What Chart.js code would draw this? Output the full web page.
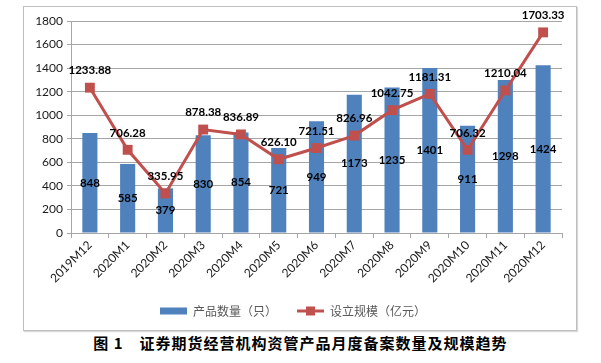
<!DOCTYPE html>
<html>
<head>
<meta charset="utf-8">
<script src="https://cdn.jsdelivr.net/npm/chart.js@4"></script>
<style>
  body { margin: 0; background: #fff; width: 601px; height: 363px; position: relative; overflow: hidden; }
  #box { position: absolute; left: 23px; top: 6px; width: 552px; height: 323px; border: 1px solid #bfbfbf; box-shadow: 1px 1px 1px #d9d9d9; }
  #title { position: absolute; left: 0; top: 334px; width: 601px; text-align: center; white-space: pre;
           font: bold 15px "Noto Sans CJK SC"; letter-spacing: 1px; line-height: 18px; color: #000; }
</style>
</head>
<body>
<div id="box"><canvas id="chart" width="552" height="323"></canvas></div>
<div id="title">图 1　证券期货经营机构资管产品月度备案数量及规模趋势</div>
<script>
// months on the x axis
const months = ["2019M12", "2020M1", "2020M2", "2020M3", "2020M4", "2020M5", "2020M6",
                "2020M7", "2020M8", "2020M9", "2020M10", "2020M11", "2020M12"];
// 产品数量（只）
const productCount = [848, 585, 379, 830, 854, 721, 949, 1173, 1235, 1401, 911, 1298, 1424];
// 设立规模（亿元）
const scale = [1233.88, 706.28, 335.95, 878.38, 836.89, 626.10, 721.51, 826.96, 1042.75, 1181.31, 706.32, 1210.04, 1703.33];
const yTicks = [0, 200, 400, 600, 800, 1000, 1200, 1400, 1600, 1800];

const blue = "#4f81bd";
const red = "#c0504d";
const gridGray = "#a6a6a6";

// little canvases used as legend symbols
function legendSwatch(kind) {
  const c = document.createElement("canvas");
  c.width = 27; c.height = 11;
  const g = c.getContext("2d");
  if (kind === "bar") {
    g.fillStyle = blue;
    g.fillRect(0, 2, 27, 7);
  } else {
    g.strokeStyle = red;
    g.lineWidth = 3;
    g.beginPath(); g.moveTo(0, 5.5); g.lineTo(27, 5.5); g.stroke();
    g.fillStyle = red;
    g.fillRect(9, 1, 9, 9);
  }
  return c;
}

// value labels: centred in the bars, above the line points
const valueLabels = {
  id: "valueLabels",
  afterDatasetsDraw(chart) {
    const ctx = chart.ctx;
    ctx.save();
    ctx.font = "bold 11.5px Lato";
    ctx.fillStyle = "#000";
    ctx.textAlign = "center";
    ctx.textBaseline = "middle";
    chart.getDatasetMeta(0).data.forEach((el, i) => {
      ctx.fillText(String(productCount[i]), el.x, (el.y + el.base) / 2);
    });
    chart.getDatasetMeta(1).data.forEach((el, i) => {
      ctx.fillText(scale[i].toFixed(2), el.x, el.y - 17);
    });
    ctx.restore();
  }
};

new Chart(document.getElementById("chart"), {
  type: "bar",
  data: {
    labels: months,
    datasets: [
      {
        type: "bar",
        label: "产品数量（只）",
        data: productCount,
        backgroundColor: blue,
        categoryPercentage: 1,
        barPercentage: 0.4,
        order: 1
      },
      {
        type: "line",
        label: "设立规模（亿元）",
        data: scale,
        borderColor: red,
        backgroundColor: red,
        borderWidth: 3,
        pointStyle: "rect",
        pointRadius: 7,
        pointHoverRadius: 7,
        pointBorderWidth: 0,
        tension: 0,
        order: 0
      }
    ]
  },
  options: {
    responsive: false,
    animation: false,
    layout: { padding: { top: 14, right: 14, left: 0, bottom: 3 } },
    plugins: {
      tooltip: { enabled: false },
      legend: {
        position: "bottom",
        labels: {
          usePointStyle: true,
          pointStyleWidth: 27,
          padding: 20,
          color: "#595959",
          font: { family: "Noto Sans CJK SC", size: 12 },
          generateLabels(chart) {
            return chart.data.datasets.map((ds, i) => ({
              text: ds.label,
              pointStyle: legendSwatch(i === 0 ? "bar" : "line"),
              fillStyle: ds.backgroundColor,
              strokeStyle: ds.backgroundColor,
              lineWidth: 0,
              hidden: false,
              datasetIndex: i,
              fontColor: "#595959"
            }));
          }
        }
      }
    },
    scales: {
      x: {
        grid: { drawOnChartArea: false, drawTicks: true, tickLength: 5, color: gridGray, offset: true },
        border: { color: gridGray },
        ticks: { color: "#1a1a1a", font: { family: "Lato", size: 12 }, maxRotation: 45, minRotation: 45, autoSkip: false, padding: 0 },
        afterFit(s) { s.height = 52; }
      },
      y: {
        min: 0,
        max: 1800,
        afterBuildTicks(s) { s.ticks = yTicks.map(v => ({ value: v })); },
        grid: { color: gridGray, tickLength: 4 },
        border: { color: gridGray },
        ticks: { color: "#1a1a1a", font: { family: "Lato", size: 12 }, padding: 4, callback: v => String(v) },
        afterFit(s) { s.width = 47; }
      }
    }
  },
  plugins: [valueLabels]
});
</script>
</body>
</html>
